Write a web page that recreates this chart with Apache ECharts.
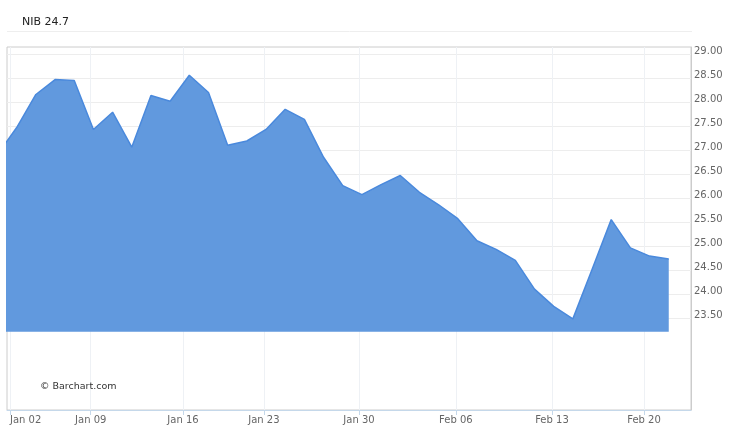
<!DOCTYPE html>
<html><head><meta charset="utf-8">
<script src="https://cdn.jsdelivr.net/npm/echarts@6/dist/echarts.min.js"></script>
<style>html,body{margin:0;padding:0;background:#fff}#c{width:750px;height:433px}</style>
</head><body><div id="c"></div>
<script>
// trading-day index (0 = Jan 02); -1 is the prior session, partly off the left edge
const dayIndex = [-1,0,1,2,3,4,5,6,7,8,9,10,11,12,13,14,15,16,17,18,19,20,21,22,23,24,25,26,27,28,29,30,31,32,33,34];
const closes = [26.92,27.48,28.17,28.48,28.46,27.44,27.80,27.07,28.15,28.03,28.57,28.21,27.11,27.20,27.44,27.86,27.65,26.86,26.27,26.08,26.29,26.48,26.13,25.87,25.58,25.12,24.94,24.71,24.11,23.75,23.49,24.52,25.56,24.97,24.80,24.74];
const xTickPos = [-0.35,3.86,8.67,12.89,17.85,22.90,27.91,32.71];
const xTickLabels = ['Jan 02','Jan 09','Jan 16','Jan 23','Jan 30','Feb 06','Feb 13','Feb 20'];
const yTicks = [23.5,24,24.5,25,25.5,26,26.5,27,27.5,28,28.5,29];
const areaBase = 23.22;
const xRange = [-0.506, 35.16];
const yRange = [21.59, 29.16];
const titleText = 'NIB 24.7';
const credit = '\u00A9 Barchart.com';

const FONT = 'DejaVu Sans';
const chart = echarts.init(document.getElementById('c'), null, {renderer: 'canvas'});
chart.setOption({
  animation: false,
  backgroundColor: '#fff',
  title: {
    text: titleText, left: 22, top: 17, padding: 0,
    textStyle: {fontSize: 11, fontWeight: 'normal', color: '#222', fontFamily: FONT}
  },
  graphic: [
    {type: 'line', shape: {x1: 7, y1: 31.5, x2: 692, y2: 31.5}, style: {stroke: '#eeeeee', lineWidth: 1}, silent: true},
    {type: 'text', left: 40, top: 382, style: {text: credit, fontSize: 9.5, fill: '#333', fontFamily: FONT}, silent: true, z: 10}
  ],
  grid: {left: 7, right: 59, top: 47, bottom: 23, show: true, borderColor: '#cccccc', borderWidth: 1, containLabel: false},
  xAxis: {
    type: 'value', min: xRange[0], max: xRange[1],
    axisLine: {show: true, onZero: false, lineStyle: {color: '#c5d8ea'}},
    axisTick: {show: true, customValues: xTickPos, length: 5, lineStyle: {color: '#c5d8ea'}},
    axisLabel: {
      customValues: xTickPos, color: '#666', fontSize: 10, fontFamily: FONT, margin: 5,
      alignMinLabel: 'left',
      formatter: function (v) {
        let best = 0;
        xTickPos.forEach(function (p, i) { if (Math.abs(p - v) < Math.abs(xTickPos[best] - v)) best = i; });
        return xTickLabels[best];
      }
    },
    splitLine: {show: true, lineStyle: {color: '#eef1f5'}}
  },
  yAxis: {
    type: 'value', position: 'right', min: yRange[0], max: yRange[1],
    axisLine: {show: true, onZero: false, lineStyle: {color: '#cccccc'}},
    axisTick: {show: false, customValues: yTicks},
    axisLabel: {
      customValues: yTicks, color: '#666', fontSize: 10, fontFamily: FONT, margin: 3,
      verticalAlign: 'middle',
      rich: {v: {color: '#666', fontSize: 10, fontFamily: FONT, padding: [0, 0, 7, 0]}},
      formatter: function (v) { return '{v|' + v.toFixed(2) + '}'; }
    },
    splitLine: {show: true, lineStyle: {color: '#ededed'}}
  },
  series: [{
    type: 'line',
    data: dayIndex.map(function (d, i) { return [d, closes[i]]; }),
    symbol: 'none',
    clip: true,
    lineStyle: {color: '#4a89dc', width: 1.5},
    areaStyle: {color: '#6199de', opacity: 1, origin: areaBase}
  }]
});
</script>
</body></html>
